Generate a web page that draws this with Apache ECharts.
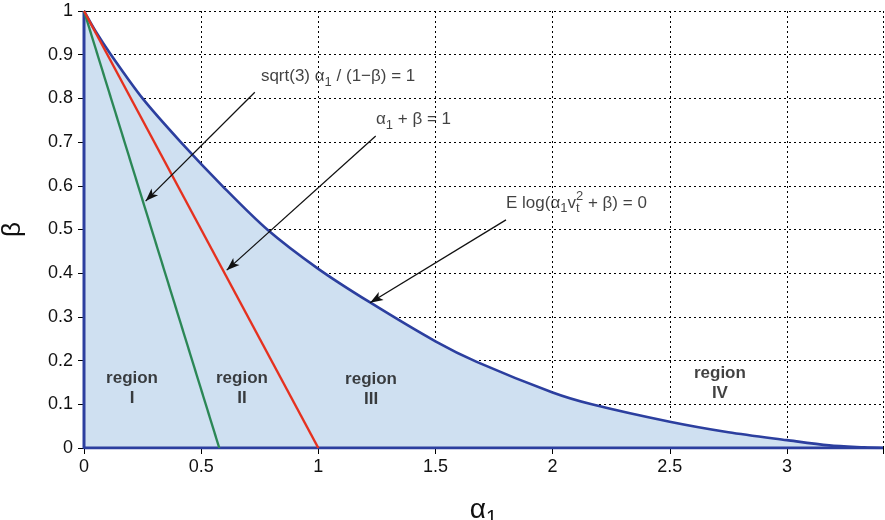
<!DOCTYPE html>
<html>
<head>
<meta charset="utf-8">
<script src="https://cdn.jsdelivr.net/npm/echarts@6/dist/echarts.min.js"></script>
<style>
html,body{margin:0;padding:0;background:#fff;}
#chart{width:885px;height:520px;}
</style>
</head>
<body>
<div id="chart"></div>
<script>
// ---- data ----
var curveAlpha = [0, 0.05, 0.115, 0.25, 0.413, 0.59, 0.782, 1.0, 1.221, 1.5, 1.676, 2.0, 2.167, 2.5, 2.75, 3.0, 3.18, 3.33, 3.41];
var curveBeta  = [1, 0.953, 0.9, 0.8, 0.7, 0.6, 0.5, 0.41, 0.333, 0.244, 0.197, 0.127, 0.1, 0.06, 0.036, 0.018, 0.006, 0.0015, 0];
var greenAlpha = [0, 0.5774];
var greenBeta  = [1, 0];
var redAlpha   = [0, 1];
var redBeta    = [1, 0];
var xMin = 0, xMax = 3.41, xStep = 0.5;
var yMin = 0, yMax = 1, yStep = 0.1;
var regionNames = ['region\nI', 'region\nII', 'region\nIII', 'region\nIV'];
var regionAlpha = [0.205, 0.674, 1.225, 2.714];
var regionBeta  = [0.137, 0.137, 0.135, 0.149];
var noteText  = ['sqrt(3) {a|α}{s|1} / (1−β) = 1', '{a|α}{s|1} + β = 1', 'E log({a|α}{s|1}v{t|t}{p|2} + β) = 0'];
var noteAlpha = [0.755, 1.246, 1.801];
var noteBeta  = [0.851, 0.753, 0.561];
var arrowFromAlpha = [0.729, 1.245, 1.801];
var arrowFromBeta  = [0.814, 0.714, 0.522];
var arrowToAlpha   = [0.263, 0.609, 1.221];
var arrowToBeta    = [0.565, 0.407, 0.3325];

function zip(a, b) { return a.map(function (v, i) { return [v, b[i]]; }); }

var FONT = '"Liberation Sans", Arial, Helvetica, sans-serif';
var BLUE = '#2c3f9f';
var FILL = '#cfe0f1';
var INK = '#111111';

var chart = echarts.init(document.getElementById('chart'), null, {renderer: 'canvas'});

var hiddenAxisCommon = {
  type: 'value', axisLabel: {show: false}, splitLine: {show: false},
  axisLine: {show: true, lineStyle: {color: '#000', width: 1.2}},
  axisTick: {show: true, inside: true, length: 6, lineStyle: {color: '#000'}}
};

var arrowData = arrowFromAlpha.map(function (a, i) {
  return [{coord: [a, arrowFromBeta[i]]}, {coord: [arrowToAlpha[i], arrowToBeta[i]]}];
});

var noteRich = {
  a: {fontFamily: FONT, fontSize: 17, color: INK},
  s: {fontFamily: FONT, fontSize: 13, color: INK, padding: [12, 0, 0, 0]},
  t: {fontFamily: FONT, fontSize: 13, color: INK, padding: [12, 0, 0, 0], width: 0},
  p: {fontFamily: FONT, fontSize: 13, color: INK, padding: [0, 0, 12, 0]}
};

chart.setOption({
  animation: false,
  backgroundColor: '#fff',
  grid: {left: 84, right: 2, top: 11, bottom: 72, containLabel: false, outerBoundsMode: 'none'},
  xAxis: [{
    type: 'value', min: xMin, max: xMax, interval: xStep, position: 'bottom',
    name: '{a|α}{s|1}', nameLocation: 'middle', nameGap: 44,
    nameTextStyle: {rich: {
      a: {fontFamily: FONT, fontSize: 28, color: INK},
      s: {fontFamily: FONT, fontSize: 20, color: INK, padding: [16, 0, 0, 0]}
    }},
    axisLine: {show: true, onZero: false, lineStyle: {color: '#000', width: 1.2}},
    axisTick: {show: true, inside: true, length: 6, lineStyle: {color: '#000'}},
    axisLabel: {fontFamily: FONT, fontSize: 18, color: INK, margin: 10, showMaxLabel: false},
    splitLine: {show: true, lineStyle: {color: '#000', type: [2, 3], width: 1}}
  }, Object.assign({}, hiddenAxisCommon, {min: xMin, max: xMax, interval: xStep, position: 'top'})],
  yAxis: [{
    type: 'value', min: yMin, max: yMax, interval: yStep, position: 'left',
    name: 'β', nameLocation: 'middle', nameGap: 58, nameRotate: 90,
    nameTextStyle: {fontFamily: FONT, fontSize: 26, color: INK},
    axisLine: {show: true, onZero: false, lineStyle: {color: '#000', width: 1.2}},
    axisTick: {show: true, inside: true, length: 6, lineStyle: {color: '#000'}},
    axisLabel: {fontFamily: FONT, fontSize: 18, color: INK, margin: 11},
    splitLine: {show: true, lineStyle: {color: '#000', type: [2, 3], width: 1}}
  }, Object.assign({}, hiddenAxisCommon, {min: yMin, max: yMax, interval: yStep, position: 'right'})],
  series: [
    {
      name: 'boundary', type: 'line', data: zip(curveAlpha, curveBeta),
      smooth: 0.3, showSymbol: false, z: 2,
      lineStyle: {color: BLUE, width: 2.6},
      areaStyle: {color: FILL, opacity: 1, origin: 'start'}
    },
    {
      name: 'edges', type: 'line', data: [[curveAlpha[0], curveBeta[0]], [0, 0], [curveAlpha[curveAlpha.length - 1], 0]],
      showSymbol: false, z: 3, lineStyle: {color: BLUE, width: 3}
    },
    {
      name: 'green', type: 'line', data: zip(greenAlpha, greenBeta), showSymbol: false, z: 4,
      lineStyle: {color: '#2b8756', width: 2.4}
    },
    {
      name: 'red', type: 'line', data: zip(redAlpha, redBeta), showSymbol: false, z: 4,
      lineStyle: {color: '#e5311f', width: 2.4}
    },
    {
      name: 'arrows', type: 'line', data: [], z: 6,
      markLine: {
        silent: true, animation: false, symbol: ['none', 'arrow'], symbolSize: [7, 13],
        label: {show: false},
        lineStyle: {color: '#111', width: 1.3, type: 'solid'},
        data: arrowData
      }
    },
    {
      name: 'notes', type: 'scatter', symbolSize: 0, z: 7,
      data: noteText.map(function (t, i) { return {value: [noteAlpha[i], noteBeta[i]], label: {formatter: t}}; }),
      label: {show: true, position: 'right', distance: 0, fontFamily: FONT, fontSize: 17, color: INK, rich: noteRich}
    },
    {
      name: 'regions', type: 'scatter', symbolSize: 0, z: 7,
      data: regionNames.map(function (t, i) { return {value: [regionAlpha[i], regionBeta[i]], label: {formatter: t}}; }),
      label: {show: true, position: 'inside', fontFamily: FONT, fontSize: 17, fontWeight: 'bold', color: INK, lineHeight: 20, align: 'center'}
    }
  ]
});
</script>
</body>
</html>
